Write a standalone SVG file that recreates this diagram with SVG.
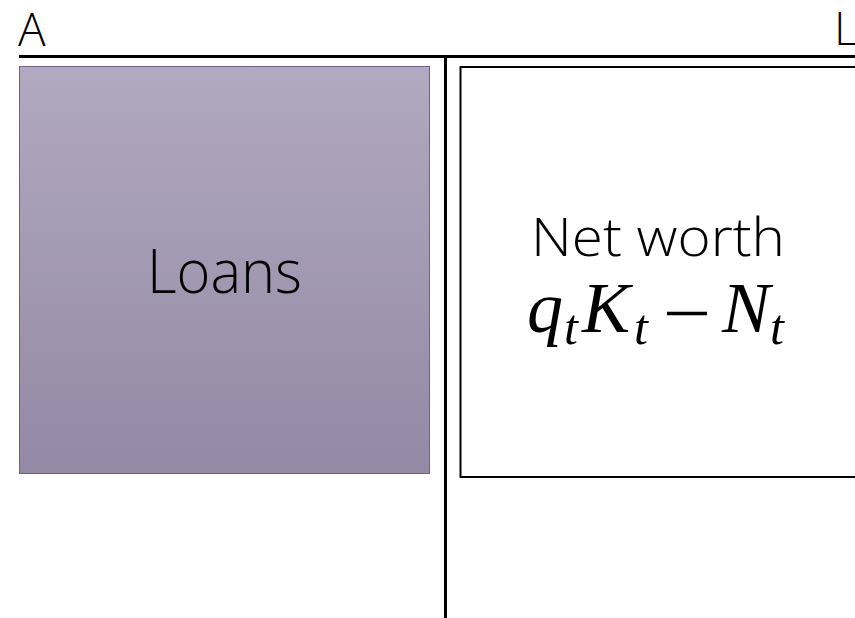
<svg xmlns="http://www.w3.org/2000/svg" width="855" height="618" viewBox="0 0 855 618">
<defs>
<linearGradient id="g" x1="0" y1="0" x2="0" y2="1">
<stop offset="0" stop-color="#B1A9BF"/>
<stop offset="1" stop-color="#9388A6"/>
</linearGradient>
<style>
.lbl{font-family:"Open Sans","Liberation Sans",sans-serif;font-weight:300;fill:#000}
.m{font-family:"Liberation Serif","DejaVu Serif",serif;font-style:italic;fill:#000}
.rule{stroke:#000;stroke-width:3;fill:none}
</style>
</defs>
<rect width="855" height="618" fill="#fff"/>
<g id="connectors">
<line class="rule" x1="19" y1="56.5" x2="855" y2="56.5"/>
<line class="rule" x1="445.5" y1="56" x2="445.5" y2="618"/>
</g>
<g id="header-A"><text class="lbl" x="18" y="46" font-size="46">A</text></g>
<g id="header-L"><text class="lbl" x="834" y="45" font-size="46">L</text></g>
<g id="loans">
<rect x="19.5" y="66.5" width="410" height="407" fill="url(#g)" stroke="#6F618B" stroke-width="1"/>
<text class="lbl" x="224.5" y="293" font-size="60" text-anchor="middle" textLength="155" lengthAdjust="spacingAndGlyphs">Loans</text>
</g>
<g id="networth">
<rect x="460.5" y="67" width="420" height="410" fill="#fff" stroke="#000" stroke-width="2"/>
<text class="lbl" x="658" y="256" font-size="54" text-anchor="middle" textLength="254" lengthAdjust="spacingAndGlyphs">Net worth</text>
<text class="m" y="332" font-size="72"><tspan x="527">q</tspan><tspan x="564" y="344" font-size="50">t</tspan><tspan x="582" y="332">K</tspan><tspan x="634" y="344" font-size="50">t</tspan><tspan x="722" y="332">N</tspan><tspan x="770" y="344" font-size="50">t</tspan></text>
<line x1="667" y1="313.5" x2="707" y2="313.5" stroke="#000" stroke-width="3.5"/>
</g>
</svg>
